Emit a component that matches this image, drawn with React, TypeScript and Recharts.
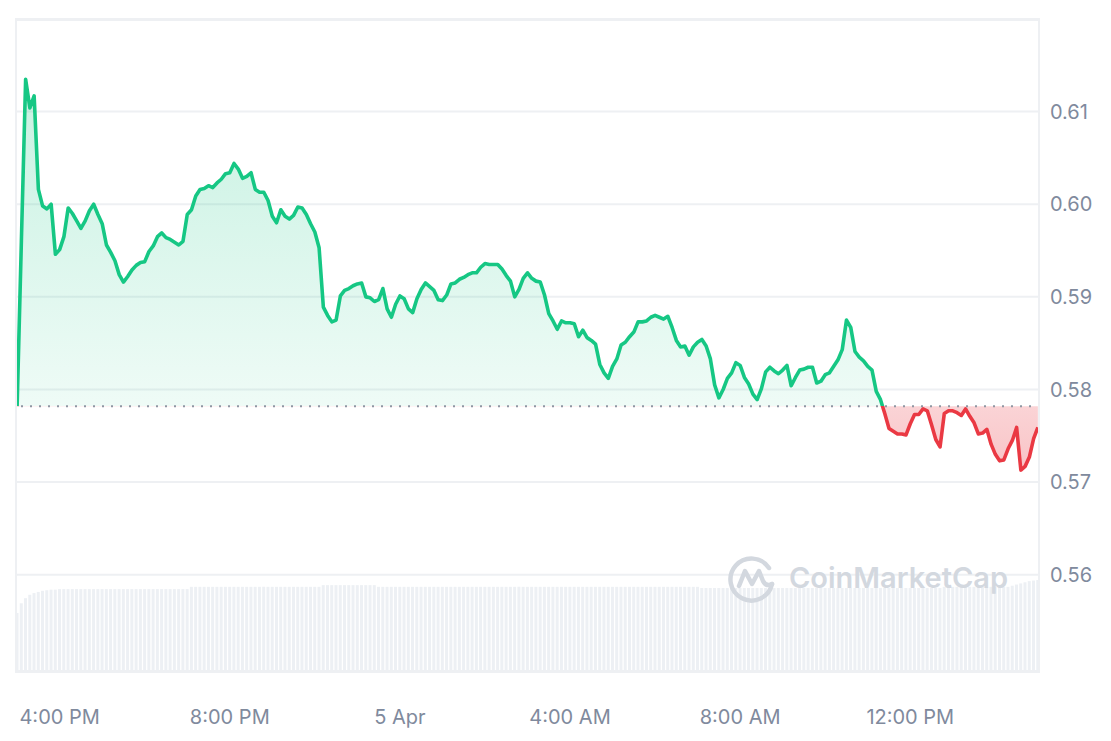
import React from "react";
import {
  ComposedChart,
  Area,
  Bar,
  XAxis,
  YAxis,
  CartesianGrid,
  ReferenceLine,
} from "recharts";

// 24h of price, one point every 6 minutes starting 3:00 PM
const stepMinutes = 6;
const openPrice = 0.5782;

const prices = [
  0.5782, 0.596, 0.6135, 0.6104, 0.6117, 0.6016, 0.5998, 0.5995, 0.6, 0.5946,
  0.5951, 0.5965, 0.5996, 0.599, 0.5982, 0.5974, 0.5982, 0.5993, 0.6, 0.5989,
  0.5979, 0.5956, 0.5948, 0.5939, 0.5924, 0.5916, 0.5922, 0.5929, 0.5934, 0.5937,
  0.5938, 0.5949, 0.5955, 0.5965, 0.5969, 0.5964, 0.5962, 0.5959, 0.5956, 0.596,
  0.5989, 0.5994, 0.6009, 0.6016, 0.6017, 0.602, 0.6018, 0.6023, 0.6027, 0.6033,
  0.6034, 0.6044, 0.6038, 0.6028, 0.603, 0.6034, 0.6016, 0.6013, 0.6013, 0.6004,
  0.5987, 0.598, 0.5994, 0.5987, 0.5984, 0.5988, 0.5997, 0.5996, 0.5989, 0.5979,
  0.597, 0.5953, 0.5889, 0.588, 0.5873, 0.5875, 0.5901, 0.5907, 0.5909, 0.5912,
  0.5914, 0.5915, 0.59, 0.5899, 0.5895, 0.5897, 0.5909, 0.5887, 0.5878, 0.5892,
  0.5901, 0.5898, 0.5887, 0.5883, 0.5898, 0.5908, 0.5915, 0.5911, 0.5907, 0.5897,
  0.5896, 0.5902, 0.5914, 0.5915, 0.5919, 0.5921, 0.5924, 0.5926, 0.5926, 0.5932,
  0.5936, 0.5935, 0.5935, 0.5935, 0.593, 0.5923, 0.5917, 0.59, 0.5908, 0.592,
  0.5926, 0.592, 0.5917, 0.5916, 0.5902, 0.5882, 0.5874, 0.5865, 0.5874, 0.5872,
  0.5872, 0.5871, 0.5857, 0.5864, 0.5856, 0.5853, 0.5849, 0.5827, 0.5818, 0.5812,
  0.5825, 0.5833, 0.5848, 0.5851, 0.5857, 0.5862, 0.5873, 0.5873, 0.5874, 0.5878,
  0.588, 0.5878, 0.5876, 0.5879, 0.5867, 0.5853, 0.5846, 0.5847, 0.5837, 0.5846,
  0.5851, 0.5854, 0.5847, 0.5833, 0.5805, 0.5791, 0.58, 0.5812, 0.5818, 0.5829,
  0.5826, 0.5813, 0.5806, 0.5795, 0.5789, 0.5801, 0.5819, 0.5824, 0.582, 0.5817,
  0.5821, 0.5826, 0.5804, 0.5813, 0.5821, 0.5822, 0.5824, 0.5824, 0.5807, 0.5809,
  0.5816, 0.5818, 0.5825, 0.5832, 0.5843, 0.5875, 0.5867, 0.5841, 0.5835, 0.5831,
  0.5825, 0.5821, 0.5798, 0.5789, 0.5774, 0.5758, 0.5755, 0.5752, 0.5752, 0.5751,
  0.5763, 0.5773, 0.5773, 0.5779, 0.5777, 0.5762, 0.5746, 0.5738, 0.5774, 0.5777,
  0.5777, 0.5775, 0.5772, 0.5779, 0.5771, 0.5764, 0.5752, 0.5753, 0.5757, 0.5741,
  0.573, 0.5723, 0.5724, 0.5736, 0.5745, 0.5759, 0.5713, 0.5717, 0.5727, 0.5747,
  0.5759,
];

// volume (M)
const volumes = [
  104, 121, 130, 136, 139, 141, 143, 144, 145, 145,
  146, 146, 146, 146, 146, 146, 146, 146, 146, 146,
  146, 146, 146, 146, 146, 146, 146, 146, 146, 146,
  146, 146, 146, 146, 146, 146, 146, 146, 146, 146,
  146, 150, 150, 150, 150, 150, 150, 150, 150, 150,
  150, 150, 150, 150, 150, 150, 150, 150, 150, 150,
  150, 150, 150, 150, 150, 150, 150, 150, 150, 150,
  150, 150, 153, 153, 153, 153, 153, 153, 153, 153,
  153, 153, 153, 153, 153, 150, 150, 150, 150, 150,
  150, 150, 150, 150, 150, 150, 150, 150, 150, 150,
  150, 150, 150, 150, 150, 150, 150, 150, 150, 150,
  150, 150, 150, 150, 150, 150, 150, 150, 150, 150,
  150, 150, 150, 150, 150, 150, 150, 150, 150, 150,
  150, 150, 150, 150, 150, 150, 150, 150, 150, 150,
  150, 150, 150, 150, 150, 150, 150, 150, 150, 150,
  150, 150, 150, 150, 150, 150, 150, 150, 150, 150,
  150, 148, 148, 148, 148, 148, 148, 148, 148, 148,
  148, 148, 148, 148, 148, 148, 148, 148, 148, 148,
  148, 148, 148, 148, 148, 148, 148, 148, 148, 148,
  148, 148, 148, 148, 148, 148, 148, 148, 148, 148,
  148, 148, 148, 148, 148, 148, 148, 148, 148, 148,
  148, 148, 148, 148, 148, 148, 148, 148, 150, 150,
  150, 150, 150, 150, 150, 150, 150, 150, 150, 150,
  150, 150, 150, 150, 152, 154, 156, 158, 160, 161,
  162,
];

const tickMinutes = [60, 300, 540, 780, 1020, 1260];
const tickLabels = ["4:00 PM", "8:00 PM", "5 Apr", "4:00 AM", "8:00 AM", "12:00 PM"];
const priceTicks = [0.56, 0.57, 0.58, 0.59, 0.6, 0.61];

const data = prices.map((p, i) => ({ t: i * stepMinutes, price: p, vol: volumes[i] }));

const GREEN = "#16c784";
const RED = "#ea3943";
const hi = Math.max(...prices);
const lo = Math.min(...prices);
const split = (hi - openPrice) / (hi - lo);

const axisText = { fontSize: 20, fill: "#808a9d" };

export default function App() {
  return (
    <div
      style={{
        position: "relative",
        width: 1095,
        height: 725,
        fontFamily: "Inter, 'Noto Sans', sans-serif",
      }}
    >
      <ComposedChart
        width={1095}
        height={725}
        data={data}
        margin={{ top: 11, right: 3, left: 7, bottom: 0 }}
        barCategoryGap="12%"
      >
        <defs>
          <linearGradient id="lineStroke" x1="0" y1="0" x2="0" y2="1">
            <stop offset={split} stopColor={GREEN} />
            <stop offset={split} stopColor={RED} />
          </linearGradient>
          <linearGradient id="areaFill" x1="0" y1="0" x2="0" y2="1">
            <stop offset={0} stopColor={GREEN} stopOpacity={0.24} />
            <stop offset={split} stopColor={GREEN} stopOpacity={0.07} />
            <stop offset={split} stopColor={RED} stopOpacity={0.22} />
            <stop offset={1} stopColor={RED} stopOpacity={0.3} />
          </linearGradient>
        </defs>
        <CartesianGrid yAxisId="price" vertical={false} stroke="#eef0f3" strokeWidth={2} />
        <XAxis
          dataKey="t"
          scale="band"
          ticks={tickMinutes}
          interval={0}
          tickFormatter={(v) => tickLabels[tickMinutes.indexOf(v)] ?? ""}
          axisLine={false}
          tickLine={false}
          tickMargin={32}
          height={61}
          tick={axisText}
        />
        <YAxis
          yAxisId="price"
          orientation="right"
          domain={[0.5495, 0.62]}
          ticks={priceTicks}
          allowDataOverflow
          tickFormatter={(v) => v.toFixed(2)}
          axisLine={false}
          tickLine={false}
          tickMargin={4}
          width={60}
          tick={axisText}
        />
        <YAxis yAxisId="vol" hide domain={[0, 1150]} />
        <Bar yAxisId="vol" dataKey="vol" fill="#edf0f4" isAnimationActive={false} />
        <Area
          yAxisId="price"
          type="linear"
          dataKey="price"
          baseValue={openPrice}
          stroke="url(#lineStroke)"
          strokeWidth={3.6}
          strokeLinejoin="round"
          fill="url(#areaFill)"
          fillOpacity={1}
          dot={false}
          activeDot={false}
          isAnimationActive={false}
        />
        <ReferenceLine
          yAxisId="price"
          y={openPrice}
          stroke="#8f96a3"
          strokeDasharray="2 7"
          strokeWidth={2}
        />
      </ComposedChart>

      {/* plot frame */}
      <div
        style={{
          position: "absolute",
          left: 7,
          top: 11,
          width: 1025,
          height: 653,
          border: "2px solid #eef0f3",
          boxSizing: "border-box",
          pointerEvents: "none",
        }}
      />

      {/* watermark */}
      <div
        style={{
          position: "absolute",
          left: 719,
          top: 545,
          display: "flex",
          alignItems: "center",
          gap: 12,
          color: "#d3d8df",
          pointerEvents: "none",
        }}
      >
        <svg width={50} height={50} viewBox="0 0 50 50">
          <path
            d="M42 15 A21 21 0 1 0 45 31"
            fill="none"
            stroke="#d3d8df"
            strokeWidth={4.5}
            strokeLinecap="round"
          />
          <path
            d="M12 33 L18 18 L25 31 L32 18 L36 28 Q39 34 45 31"
            fill="none"
            stroke="#d3d8df"
            strokeWidth={4.5}
            strokeLinecap="round"
            strokeLinejoin="round"
          />
        </svg>
        <span style={{ fontSize: 29, fontWeight: 600, lineHeight: "34px" }}>CoinMarketCap</span>
      </div>
    </div>
  );
}
